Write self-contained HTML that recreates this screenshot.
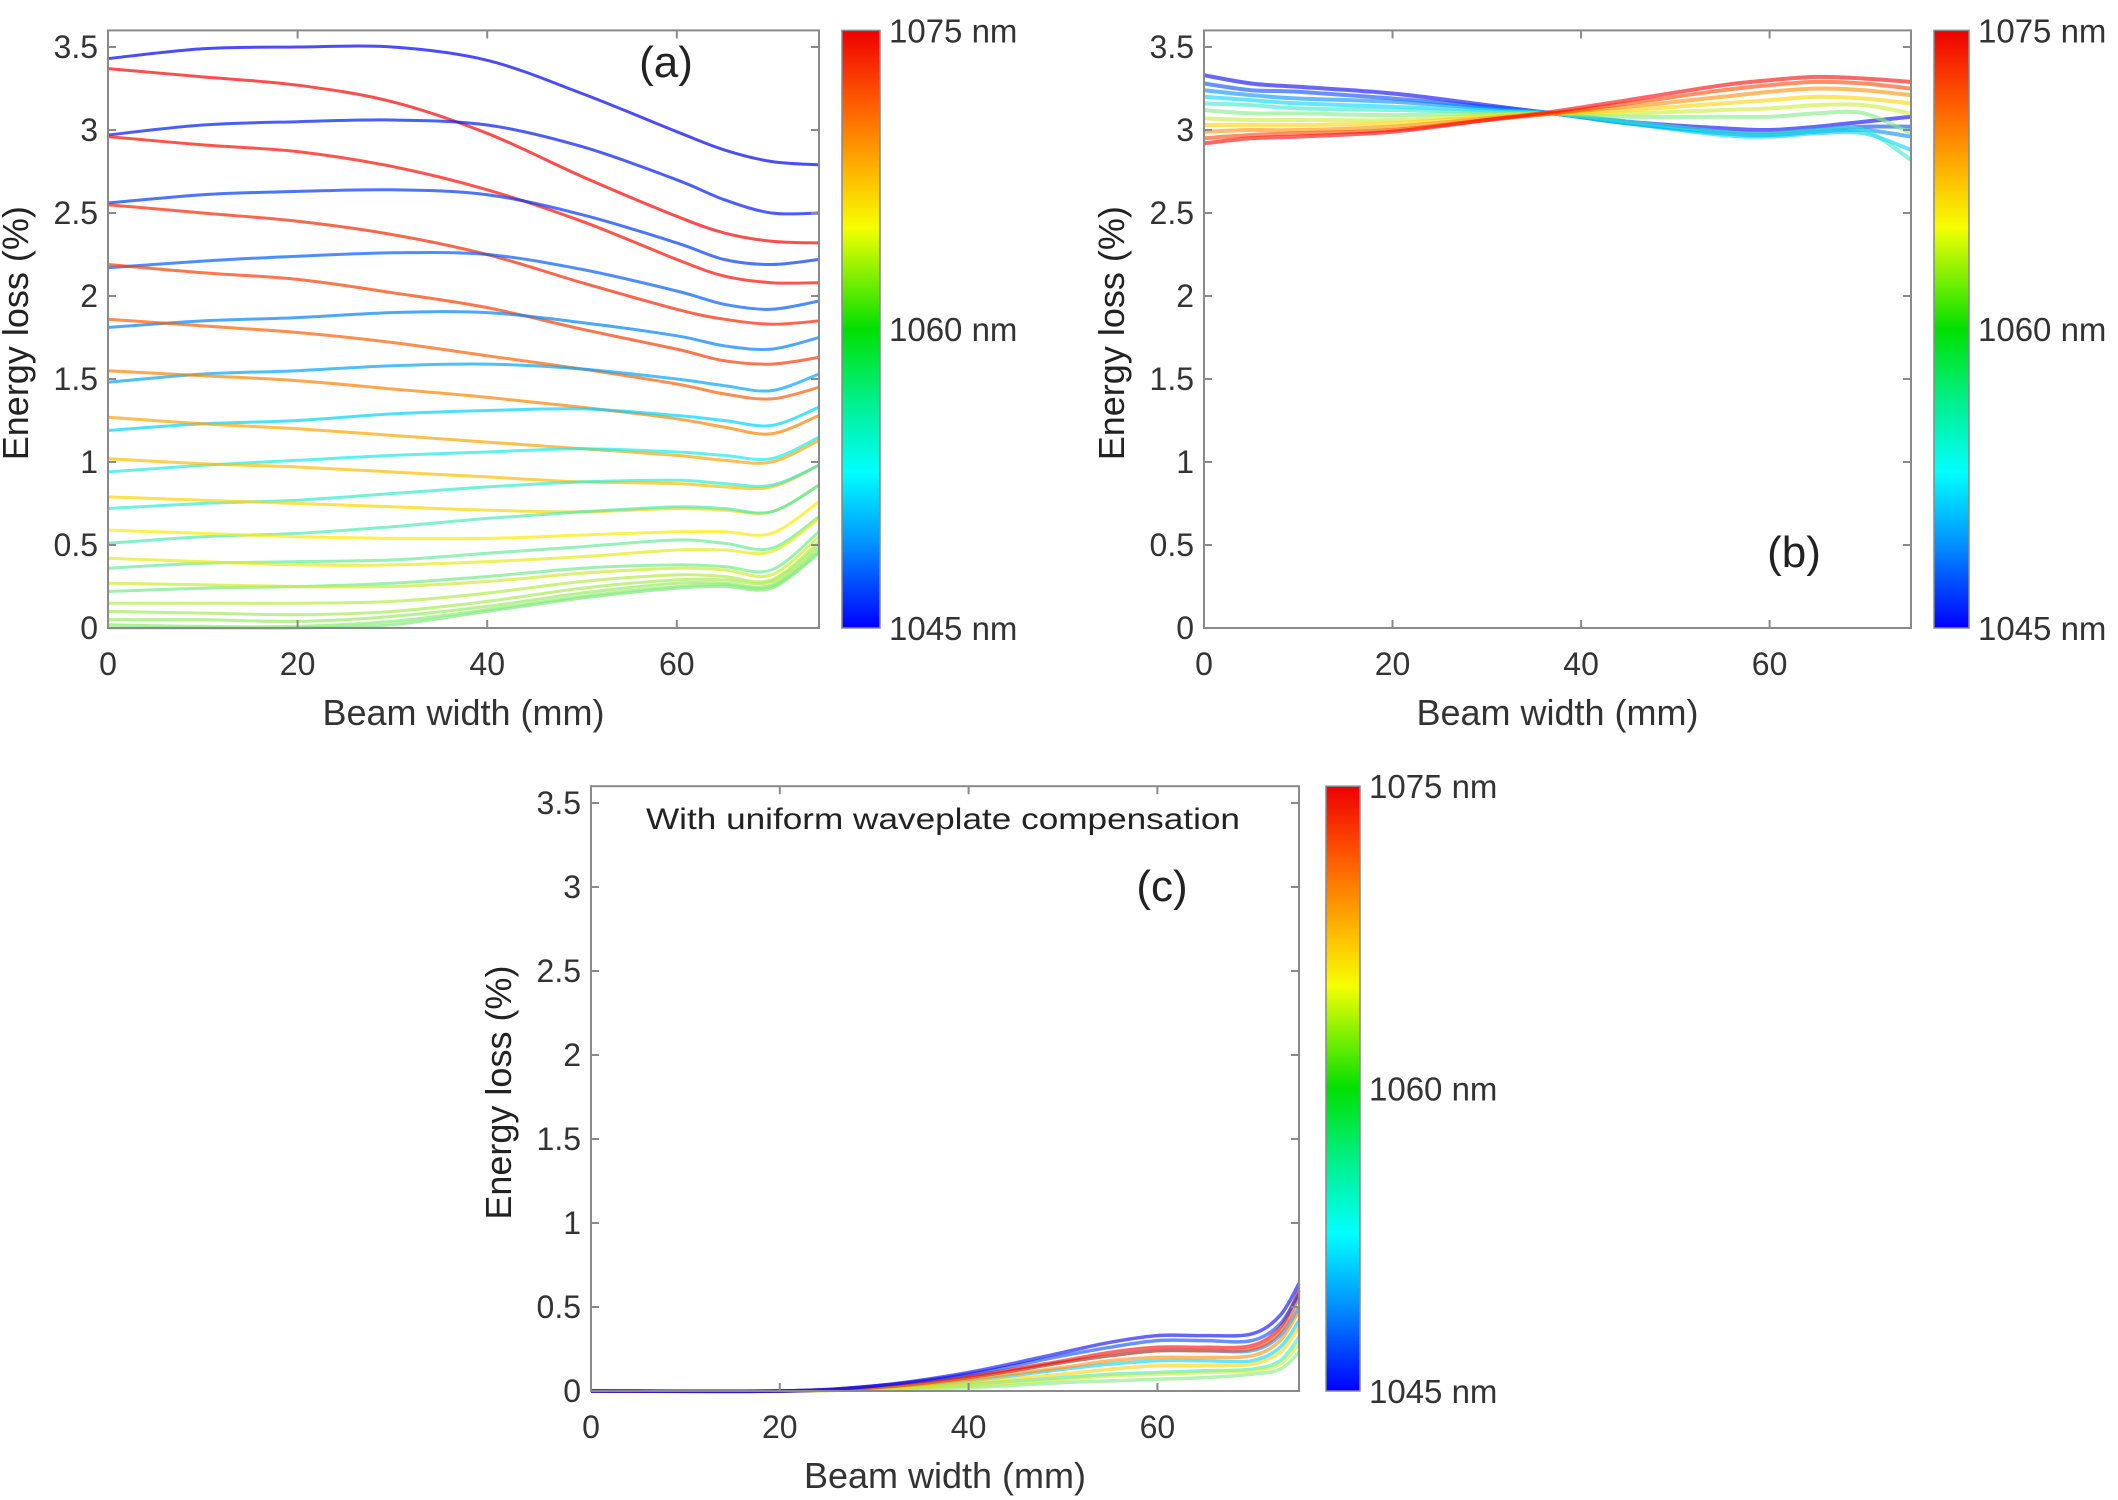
<!DOCTYPE html>
<html><head><meta charset="utf-8">
<style>
html,body{margin:0;padding:0;background:#fff;}
svg{display:block;font-family:"Liberation Sans",sans-serif;}
</style></head>
<body>
<svg id="fig" width="2118" height="1500" viewBox="0 0 2118 1500">
<defs>
<linearGradient id="jet" x1="0" y1="0" x2="0" y2="1">
<stop offset="0" stop-color="#ee0000"/>
<stop offset="0.12" stop-color="#ff5a00"/>
<stop offset="0.25" stop-color="#ffc000"/>
<stop offset="0.33" stop-color="#f6ff00"/>
<stop offset="0.5" stop-color="#00e000"/>
<stop offset="0.62" stop-color="#00f08a"/>
<stop offset="0.74" stop-color="#00ffff"/>
<stop offset="0.86" stop-color="#0090ff"/>
<stop offset="1" stop-color="#0000ff"/>
</linearGradient>
</defs>
</svg>
<script>
// ---------- DATA ----------
const yTicks = [0,0.5,1,1.5,2,2.5,3,3.5];
const yTickLabels = ["0","0.5","1","1.5","2","2.5","3","3.5"];
const xTicks = [0,20,40,60];
const xTickLabels = ["0","20","40","60"];
const cbLabels = ["1075 nm","1060 nm","1045 nm"];

// Panel (a)
const xA = [0,10,20,30,40,50,60,65,70,75];
const lambdaA = [1045,1075,1046,1074.5,1047.5,1073.5,1049,1072.5,1050.5,1071,1052,1069.5,1054,1068,1056,1067,1057,1066,1058,1065,1059,1064,1059.5,1063,1062,1061.5,1061,1060.5,1060];
const seriesA = [
[3.43,3.49,3.50,3.50,3.42,3.22,2.99,2.88,2.81,2.79],
[3.37,3.32,3.27,3.17,2.98,2.72,2.48,2.38,2.33,2.32],
[2.97,3.03,3.05,3.06,3.03,2.90,2.70,2.58,2.50,2.50],
[2.96,2.91,2.87,2.78,2.64,2.45,2.22,2.12,2.08,2.08],
[2.56,2.61,2.63,2.64,2.61,2.49,2.32,2.22,2.19,2.22],
[2.55,2.50,2.45,2.37,2.25,2.08,1.92,1.86,1.83,1.85],
[2.17,2.21,2.24,2.26,2.25,2.16,2.03,1.95,1.92,1.97],
[2.19,2.14,2.10,2.02,1.93,1.80,1.68,1.61,1.59,1.63],
[1.81,1.85,1.87,1.90,1.90,1.84,1.76,1.70,1.68,1.75],
[1.86,1.82,1.78,1.72,1.64,1.56,1.47,1.41,1.38,1.45],
[1.48,1.53,1.55,1.58,1.59,1.56,1.50,1.46,1.43,1.53],
[1.55,1.52,1.49,1.44,1.39,1.33,1.26,1.21,1.17,1.28],
[1.19,1.23,1.25,1.29,1.31,1.32,1.28,1.25,1.22,1.33],
[1.27,1.23,1.20,1.16,1.12,1.08,1.04,1.01,1.00,1.13],
[0.94,0.98,1.01,1.04,1.06,1.08,1.06,1.04,1.02,1.15],
[1.02,0.99,0.97,0.94,0.91,0.88,0.87,0.85,0.85,0.98],
[0.72,0.75,0.77,0.81,0.85,0.88,0.89,0.87,0.86,0.98],
[0.79,0.77,0.75,0.73,0.71,0.70,0.72,0.71,0.70,0.86],
[0.51,0.55,0.57,0.61,0.66,0.70,0.73,0.72,0.70,0.86],
[0.59,0.57,0.55,0.54,0.54,0.56,0.58,0.58,0.57,0.76],
[0.36,0.39,0.40,0.41,0.45,0.49,0.53,0.51,0.48,0.67],
[0.42,0.40,0.38,0.38,0.40,0.43,0.47,0.47,0.46,0.66],
[0.22,0.24,0.25,0.27,0.31,0.36,0.38,0.37,0.35,0.58],
[0.27,0.26,0.25,0.25,0.28,0.33,0.36,0.35,0.32,0.55],
[0.15,0.15,0.15,0.16,0.21,0.28,0.32,0.31,0.29,0.52],
[0.10,0.09,0.08,0.10,0.16,0.24,0.29,0.29,0.28,0.50],
[0.05,0.05,0.04,0.07,0.13,0.21,0.27,0.27,0.26,0.48],
[0.02,0.01,0.01,0.04,0.11,0.19,0.25,0.26,0.25,0.46],
[0.00,0.00,0.00,0.02,0.10,0.18,0.24,0.25,0.24,0.45]
];

// Panel (b)
const xB = [0,5,10,20,30,37,45,55,60,65,70,75];
const lambdaB = [1045,1048,1051,1054,1057,1060,1063,1066,1069,1072,1075];
const seriesB = [
[3.33,3.28,3.26,3.22,3.15,3.10,3.05,3.01,3.00,3.02,3.05,3.08],
[3.28,3.24,3.23,3.19,3.14,3.10,3.04,2.99,2.98,3.00,3.02,3.02],
[3.24,3.21,3.19,3.17,3.13,3.10,3.04,2.98,2.97,2.99,3.00,2.96],
[3.20,3.18,3.16,3.14,3.12,3.10,3.04,2.97,2.96,2.98,2.98,2.88],
[3.16,3.15,3.13,3.12,3.11,3.10,3.05,2.99,2.98,3.00,3.00,2.82],
[3.12,3.10,3.10,3.09,3.10,3.10,3.08,3.08,3.08,3.10,3.10,2.98],
[3.07,3.06,3.06,3.06,3.09,3.10,3.10,3.12,3.13,3.15,3.15,3.10],
[3.03,3.03,3.03,3.04,3.08,3.10,3.12,3.16,3.18,3.20,3.19,3.16],
[2.99,3.00,3.00,3.02,3.07,3.10,3.14,3.20,3.23,3.25,3.24,3.21],
[2.95,2.97,2.98,3.00,3.06,3.10,3.16,3.24,3.27,3.29,3.28,3.25],
[2.92,2.95,2.96,2.99,3.06,3.11,3.18,3.27,3.30,3.32,3.31,3.29]
];

// Panel (c)
const xC = [0,20,30,40,50,55,60,65,70,73,75];
const lambdaC = [1060,1057,1063,1054,1066,1051,1069,1072,1075,1048,1045];
const seriesC = [
[0,0,0.01,0.02,0.05,0.06,0.07,0.08,0.10,0.13,0.23],
[0,0,0.01,0.04,0.08,0.10,0.11,0.12,0.13,0.18,0.32],
[0,0,0.01,0.03,0.07,0.09,0.10,0.11,0.12,0.16,0.28],
[0,0,0.02,0.06,0.13,0.16,0.18,0.18,0.18,0.26,0.42],
[0,0,0.01,0.05,0.10,0.13,0.15,0.15,0.16,0.23,0.38],
[0,0,0.02,0.08,0.17,0.21,0.24,0.24,0.24,0.33,0.50],
[0,0,0.02,0.07,0.14,0.18,0.20,0.20,0.21,0.30,0.48],
[0,0,0.02,0.08,0.17,0.21,0.24,0.24,0.25,0.35,0.56],
[0,0,0.03,0.09,0.18,0.23,0.26,0.26,0.27,0.38,0.60],
[0,0,0.03,0.10,0.21,0.26,0.30,0.30,0.30,0.40,0.58],
[0,0,0.03,0.11,0.23,0.29,0.33,0.33,0.34,0.45,0.64]
];

// ---------- DRAWING ----------
const NS = "http://www.w3.org/2000/svg";
const svg = document.getElementById("fig");
function el(tag, attrs, parent){
  const e = document.createElementNS(NS, tag);
  for (const k in attrs) e.setAttribute(k, attrs[k]);
  (parent||svg).appendChild(e);
  return e;
}
function jet(l){
  let t = (l-1045)/30;
  t = Math.max(0, Math.min(1, t));
  t = 0.125 + 0.75*t;
  const r = Math.max(0, Math.min(1, 1.5 - Math.abs(4*t-3)));
  const g = Math.max(0, Math.min(1, 1.5 - Math.abs(4*t-2)));
  const b = Math.max(0, Math.min(1, 1.5 - Math.abs(4*t-1)));
  return `rgb(${Math.round(r*255)},${Math.round(g*235)},${Math.round(b*255)})`;
}
function smoothPath(pts){
  let d = `M${pts[0][0].toFixed(1)},${pts[0][1].toFixed(1)}`;
  for (let i=0;i<pts.length-1;i++){
    const p0=pts[Math.max(0,i-1)], p1=pts[i], p2=pts[i+1], p3=pts[Math.min(pts.length-1,i+2)];
    const c1x=p1[0]+(p2[0]-p0[0])/6, c1y=p1[1]+(p2[1]-p0[1])/6;
    const c2x=p2[0]-(p3[0]-p1[0])/6, c2y=p2[1]-(p3[1]-p1[1])/6;
    d += ` C${c1x.toFixed(1)},${c1y.toFixed(1)} ${c2x.toFixed(1)},${c2y.toFixed(1)} ${p2[0].toFixed(1)},${p2[1].toFixed(1)}`;
  }
  return d;
}

function panel(cfg){
  const g = el("g", {});
  
  
  const sx = v => cfg.x0 + (v/75)*(cfg.x1-cfg.x0);
  const sy = v => cfg.y0 - v*cfg.k;
  const top = cfg.y0 - 3.6*cfg.k;
  const lg = el("g", {}, g);
  
  
  cfg.series.forEach((s,i)=>{
    const pts = s.map((v,j)=>[sx(cfg.xs[j]), sy(v)]);
    const p = el("path", {d:smoothPath(pts), fill:"none", stroke:jet(cfg.lambda[i]), "stroke-width":cfg.sw, "stroke-opacity":cfg.op, "stroke-linejoin":"round"}, lg);
    
    
  });
  const box = el("rect", {x:cfg.x0, y:top, width:cfg.x1-cfg.x0, height:cfg.y0-top, fill:"none", stroke:"#8a8a8a", "stroke-width":2}, g);
  
  
  yTicks.forEach((v,i)=>{
    const y = sy(v);
    el("line",{x1:cfg.x0,x2:cfg.x0+8,y1:y,y2:y,stroke:"#8a8a8a","stroke-width":2},g);
    el("line",{x1:cfg.x1,x2:cfg.x1-8,y1:y,y2:y,stroke:"#8a8a8a","stroke-width":2},g);
    const t = el("text",{x:cfg.x0-10,y:y+11,"text-anchor":"end","font-size":32,fill:"#333"},g);
    t.textContent = yTickLabels[i];
    
    
  });
  xTicks.forEach((v,i)=>{
    const x = sx(v);
    el("line",{x1:x,x2:x,y1:cfg.y0,y2:cfg.y0-8,stroke:"#8a8a8a","stroke-width":2},g);
    el("line",{x1:x,x2:x,y1:top,y2:top+8,stroke:"#8a8a8a","stroke-width":2},g);
    const t = el("text",{x:x,y:cfg.y0+47,"text-anchor":"middle","font-size":32,fill:"#333"},g);
    t.textContent = xTickLabels[i];
    
    
  });
  const xt = el("text",{x:(cfg.x0+cfg.x1)/2,y:cfg.y0+97,"text-anchor":"middle","font-size":36,fill:"#333"},g);
  xt.textContent = "Beam width (mm)";
  
  
  const ycx = cfg.x0-80, ycy = (top+cfg.y0)/2 + 4;
  const yt = el("text",{x:ycx,y:ycy,"text-anchor":"middle","font-size":36,fill:"#222",transform:`rotate(-90 ${ycx} ${ycy})`},g);
  yt.textContent = "Energy loss (%)";
  
  
  const cb = el("rect",{x:cfg.cbx,y:top,width:cfg.cbw,height:cfg.y0-top,fill:"url(#jet)",stroke:"#888","stroke-width":1.5},g);
  
  
  [top, (top+cfg.y0)/2, cfg.y0].forEach((y,i)=>{
    const t = el("text",{x:cfg.cbx+cfg.cbw+9,y:y+12,"font-size":33,fill:"#333"},g);
    t.textContent = cbLabels[i];
    
    
  });
  const pl = el("text",{x:cfg.lx,y:cfg.ly,"text-anchor":"middle","font-size":44,fill:"#222"},g);
  pl.textContent = cfg.label;
  
  
  return g;
}

panel({name:"panel-a", x0:108, x1:819, y0:628, k:166, series:seriesA, xs:xA, lambda:lambdaA, sw:3, op:0.7, cbx:842, cbw:38, label:"(a)", lx:666, ly:77});
panel({name:"panel-b", x0:1204, x1:1911, y0:628, k:166, series:seriesB, xs:xB, lambda:lambdaB, sw:4, op:0.6, cbx:1934, cbw:35, label:"(b)", lx:1794, ly:567});
const pc = panel({name:"panel-c", x0:591, x1:1299, y0:1391, k:168, series:seriesC, xs:xC, lambda:lambdaC, sw:3.5, op:0.6, cbx:1326, cbw:34, label:"(c)", lx:1162, ly:901});
const note = el("text",{x:943,y:829,"text-anchor":"middle","font-size":30,fill:"#222",textLength:594,lengthAdjust:"spacingAndGlyphs"},pc);
note.textContent = "With uniform waveplate compensation";


</script>
</body></html>
